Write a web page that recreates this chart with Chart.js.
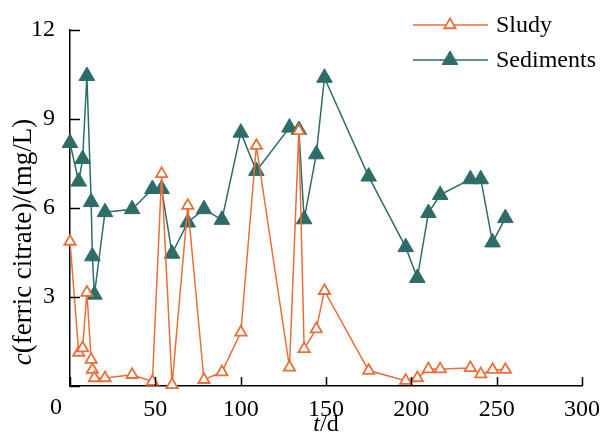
<!DOCTYPE html>
<html>
<head>
<meta charset="utf-8">
<script src="https://cdn.jsdelivr.net/npm/chart.js@4.4.1/dist/chart.umd.min.js"></script>
<style>
  html, body { margin: 0; padding: 0; background: #fff; }
</style>
</head>
<body>
<canvas id="myChart" width="609" height="438"></canvas>
<script>
// data
const days = [0, 5.1, 7.4, 9.9, 12.4, 13.1, 14.3, 20.5, 36.4, 48.3, 53.7, 59.8, 69.0, 78.5, 89.0, 100.1, 109.2, 128.6, 134.1, 137.2, 144.3, 149.1, 175.0, 196.7, 203.5, 210.0, 216.9, 234.6, 240.7, 247.6, 255.1];
const sludy = [4.87, 1.13, 1.28, 3.15, 0.89, 0.55, 0.27, 0.27, 0.38, 0.15, 7.15, 0.04, 6.08, 0.21, 0.47, 1.81, 8.10, 0.63, 8.6, 1.25, 1.92, 3.21, 0.52, 0.18, 0.27, 0.57, 0.57, 0.61, 0.40, 0.55, 0.55];
const sediments = [8.19, 6.89, 7.65, 10.45, 6.20, 4.37, 3.08, 5.86, 5.96, 6.64, 6.64, 4.46, 5.51, 5.96, 5.60, 8.54, 7.25, 8.71, 8.63, 5.62, 7.81, 10.39, 7.06, 4.68, 3.64, 5.83, 6.44, 6.97, 6.97, 4.84, 5.66];
const seriesNames = ['Sludy', 'Sediments'];
const xTicks = [0, 300, 50];   // min, max, step
const yTicks = [0, 12, 3];

const orange = '#E86F3A';
const green = '#2F6C68';
const serif = 'Liberation Serif';
const fs = 24;

function pts(vals) {
  return days.map((d, i) => ({ x: d, y: vals[i] }));
}

// inward ticks, shared "0", axis titles with italics, legend with line + marker
const extras = {
  id: 'extras',
  afterDraw(chart) {
    const { ctx, chartArea: a, scales: { x, y } } = chart;
    ctx.save();
    ctx.strokeStyle = '#000';
    ctx.lineWidth = 1.5;
    x.ticks.forEach(t => {
      const px = Math.round(x.getPixelForValue(t.value)) + 0.5;
      ctx.beginPath(); ctx.moveTo(px, a.bottom); ctx.lineTo(px, a.bottom - 9); ctx.stroke();
    });
    y.ticks.forEach(t => {
      const py = Math.round(y.getPixelForValue(t.value)) + 0.5;
      ctx.beginPath(); ctx.moveTo(a.left, py); ctx.lineTo(a.left + 10, py); ctx.stroke();
    });

    const it = 'italic ' + fs + 'px "' + serif + '"', rm = fs + 'px "' + serif + '"';
    ctx.fillStyle = '#000';
    ctx.textBaseline = 'middle';
    ctx.textAlign = 'center';
    ctx.font = rm;
    ctx.fillText('0', 56, 408);

    // x title  t/d
    ctx.font = it; const w1 = ctx.measureText('t').width;
    ctx.font = rm; const w2 = ctx.measureText('/d').width;
    let sx = (a.left + a.right) / 2 - (w1 + w2) / 2;
    ctx.textAlign = 'left';
    ctx.font = it; ctx.fillText('t', sx, 425);
    ctx.font = rm; ctx.fillText('/d', sx + w1, 425);

    // y title
    const yt = 'italic 27px "' + serif + '"', yr = '27px "' + serif + '"';
    ctx.save();
    ctx.translate(24, 242);
    ctx.rotate(-Math.PI / 2);
    ctx.font = yt; const v1 = ctx.measureText('c').width;
    ctx.font = yr; const v2 = ctx.measureText('(ferric citrate)/(mg/L)').width;
    sx = -(v1 + v2) / 2;
    ctx.font = yt; ctx.fillText('c', sx, 0);
    ctx.font = yr; ctx.fillText('(ferric citrate)/(mg/L)', sx + v1, 0);
    ctx.restore();

    // legend
    const rows = [25, 60];
    chart.data.datasets.forEach((ds, i) => {
      const ly = rows[i];
      ctx.strokeStyle = ds.borderColor;
      ctx.lineWidth = ds.borderWidth;
      ctx.beginPath(); ctx.moveTo(413, ly); ctx.lineTo(488, ly); ctx.stroke();
      ctx.fillStyle = ds.pointBackgroundColor;
      ctx.strokeStyle = ds.pointBorderColor;
      ctx.lineWidth = ds.pointBorderWidth;
      Chart.helpers.drawPoint(ctx, { pointStyle: 'triangle', radius: ds.pointRadius, rotation: 0, borderWidth: ds.pointBorderWidth }, 450, ly);
      ctx.fillStyle = '#000';
      ctx.font = rm;
      ctx.textAlign = 'left';
      ctx.fillText(ds.label, 496, ly + 1);
    });
    ctx.restore();
  }
};

new Chart(document.getElementById('myChart'), {
  type: 'line',
  data: {
    datasets: [{
      label: seriesNames[0],
      data: pts(sludy),
      borderColor: orange,
      borderWidth: 1.5,
      pointStyle: 'triangle',
      pointRadius: 6.5,
      pointBackgroundColor: '#fff',
      pointBorderColor: orange,
      pointBorderWidth: 1.8,
      clip: false
    }, {
      label: seriesNames[1],
      data: pts(sediments),
      borderColor: green,
      borderWidth: 1.5,
      pointStyle: 'triangle',
      pointRadius: 9,
      pointBackgroundColor: green,
      pointBorderColor: green,
      pointBorderWidth: 1,
      clip: false
    }]
  },
  options: {
    responsive: false,
    animation: false,
    layout: { padding: { top: 30, right: 19, left: 0, bottom: 0 } },
    plugins: { legend: { display: false }, tooltip: { enabled: false } },
    scales: {
      x: {
        type: 'linear',
        min: xTicks[0], max: xTicks[1],
        grid: { display: false, drawTicks: false },
        border: { display: true, color: '#000', width: 1.5 },
        ticks: {
          stepSize: xTicks[2], padding: 9, color: '#000',
          font: { family: serif, size: fs },
          maxRotation: 0,
          callback: v => v === 0 ? '' : v
        },
        afterFit: s => { s.height = 52; }
      },
      y: {
        min: yTicks[0], max: yTicks[1],
        grid: { display: false, drawTicks: false },
        border: { display: true, color: '#000', width: 1.5 },
        ticks: {
          stepSize: yTicks[2], padding: 15, color: '#000',
          font: { family: serif, size: fs },
          callback: v => v === 0 ? '' : v
        },
        afterFit: s => { s.width = 70; }
      }
    }
  },
  plugins: [extras]
});
</script>
</body>
</html>
